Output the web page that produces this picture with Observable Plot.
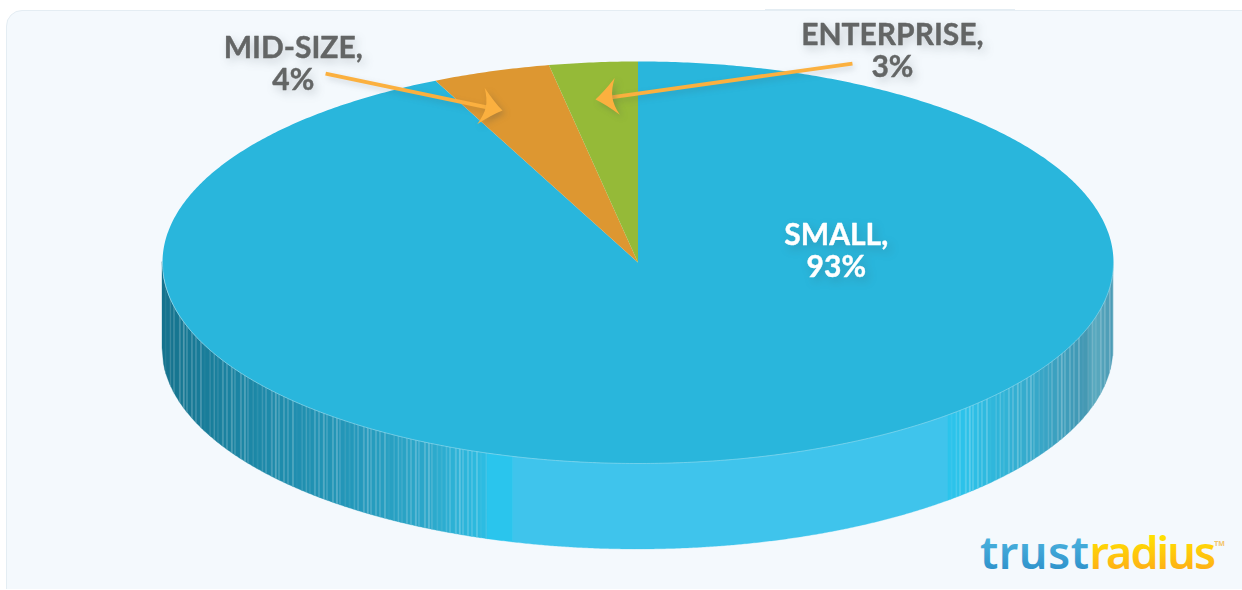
<!DOCTYPE html>
<html>
<head>
<meta charset="utf-8">
<script src="https://cdn.jsdelivr.net/npm/d3@7"></script>
<script src="https://cdn.jsdelivr.net/npm/@observablehq/plot@0.6"></script>
<style>
  html, body { margin: 0; padding: 0; background: #fff; overflow: hidden; }
  #stage { position: relative; width: 1242px; height: 589px; overflow: hidden; }
  #card { position: absolute; left: 6px; top: 10px; width: 1300px; height: 700px;
          background: #f4f9fd; border: 1px solid #e4edf3; border-radius: 16px; }
  #tab { position: absolute; left: 765px; top: 9px; width: 250px; height: 1px; background: #e4edf3; }
  #stage svg { position: absolute; left: 0; top: 0; }
  .logo-trust text { letter-spacing: 0.5px; }
  .logo-radius text { letter-spacing: -2px; }
</style>
</head>
<body>
<div id="stage"><div id="card"></div><div id="tab"></div></div>
<script>
// Company-size shares, listed clockwise from twelve o'clock
const segments = ["Small", "Mid-size", "Enterprise"];
const shares = [93, 4, 3];
const segmentColors = ["#29b6dc", "#dd9731", "#95ba38"];

// Text labels and their anchors, in pie units
const labelTexts = ["SMALL,\n93%", "MID-SIZE,\n4%", "ENTERPRISE,\n3%"];
const labelX = [0.417, -0.725, 0.535];
const labelY = [0.06, 0.99, 1.055];
const labelColors = ["#ffffff", "#636565", "#636565"];

// Callout arrows, tail to tip, in pie units
const arrowTailX = [-0.657, 0.451];
const arrowTailY = [0.94, 0.99];
const arrowTipX = [-0.285, -0.0894];
const arrowTipY = [0.756, 0.811];

// Shading of the visible rim: position across the pie and base colour
const rimStopsAt = [-1, -0.815, -0.605, -0.436, -0.3165, 0.653, 0.689, 0.762, 0.868, 0.941, 0.962, 1];
const rimStopColors = ["#15738d", "#1c87a6", "#2397b9", "#2ca8cb", "#2cbde3", "#2cc4ec", "#2cc2ea", "#30b5d9", "#3aa3c3", "#4397b2", "#5aaabf", "#4a9bb5"];
const rimFlatAt = [[-0.3165, -0.262, "#2ac5ed"], [-0.262, 0.653, "#3fc4ec"]];
const stripWidths = [0.0085, 0.0105, 0.007, 0.0125, 0.0085, 0.0065, 0.011];
const stripGlints = [0.1, 0.2, 0.06, 0.15, 0.24, 0.08, 0.13];

// Projection of the tilted disc
const cx = 637.5, cy = 262, rx = 475.5, ry = 201;
const depth = 86 / ry;
const width = 1242, height = 590;

const rimColor = d3.scaleLinear().domain(rimStopsAt).range(rimStopColors).interpolate(d3.interpolateRgb);

// Outline of one wedge: centre, then the arc sampled every half degree
const total = d3.sum(shares);
let running = 0;
const wedgePoints = segments.flatMap((segment, i) => {
  const a0 = running / total * 2 * Math.PI;
  running += shares[i];
  const a1 = running / total * 2 * Math.PI;
  const n = Math.ceil((a1 - a0) / (Math.PI / 360));
  const arc = d3.range(n + 1).map(k => {
    const a = a0 + (a1 - a0) * k / n;
    return {segment, color: segmentColors[i], x: Math.sin(a), y: Math.cos(a)};
  });
  const hub = {segment, color: segmentColors[i], x: 0, y: 0};
  return [hub, ...arc, hub];
});

// Rim bands: fine irregular strips on the curved ends, flat panels at the front
const rimBands = [];
function addStrips(from, to) {
  const light = 0.0022;
  let u = from, k = 0;
  while (u < to) {
    const period = stripWidths[k % stripWidths.length];
    const base = rimColor(u + period / 2);
    const split = Math.min(u + period - light, to), end = Math.min(u + period, to);
    rimBands.push([u, split, base]);
    rimBands.push([split, end, d3.interpolateRgb(base, "#ffffff")(stripGlints[k % stripGlints.length])]);
    u += period;
    k++;
  }
}
addStrips(-1, rimFlatAt[0][0]);
rimBands.push(...rimFlatAt);
addStrips(rimFlatAt[1][1], 1);

const rimPoints = rimBands.flatMap(([u0, u1, color], band) => {
  const n = Math.max(2, Math.ceil((u1 - u0) / 0.004));
  return d3.range(n + 1).map(k => {
    const u = u0 + (u1 - u0) * k / n;
    const v = -Math.sqrt(Math.max(0, 1 - u * u));
    return {band, color, u, top: v, bottom: v - depth};
  });
});
const frontEdge = d3.range(0, 361).map(k => {
  const a = k / 360 * Math.PI;
  return {u: Math.cos(a), v: -Math.sin(a)};
});

const labels = labelTexts.map((text, i) => ({text, x: labelX[i], y: labelY[i], color: labelColors[i]}));
const arrows = arrowTailX.map((x, i) => {
  const dx = (arrowTipX[i] - x) * rx, dy = -(arrowTipY[i] - arrowTailY[i]) * ry;
  return {
    x1: x, y1: arrowTailY[i],
    x2: x + (arrowTipX[i] - x) * 0.94, y2: arrowTailY[i] + (arrowTipY[i] - arrowTailY[i]) * 0.94,
    tipX: arrowTipX[i], tipY: arrowTipY[i],
    angle: Math.atan2(dx, -dy) * 180 / Math.PI
  };
});

// Curved, swept-back arrowhead drawn with its point at the origin
const sweptHead = {
  draw(context) {
    context.moveTo(0, 0);
    context.quadraticCurveTo(-6, 9, -18.5, 22);
    context.quadraticCurveTo(-8, 17, 0, 17);
    context.quadraticCurveTo(8, 17, 18.5, 22);
    context.quadraticCurveTo(6, 9, 0, 0);
    context.closePath();
  }
};

const softShadow = "drop-shadow(3px 4px 5px rgba(60,70,80,0.24))";

const gradients = () => {
  const defs = d3.create("svg:defs");
  const add = (id, top, bottom) => {
    const g = defs.append("linearGradient").attr("id", id).attr("x1", 0).attr("y1", 0).attr("x2", 0).attr("y2", 1);
    g.append("stop").attr("offset", "25%").attr("stop-color", top);
    g.append("stop").attr("offset", "80%").attr("stop-color", bottom);
  };
  add("logoBlue", "#4cb3de", "#2f93cc");
  add("logoGold", "#ffe100", "#feb016");
  return defs.node();
};

const chart = Plot.plot({
  width, height,
  margin: 0,
  style: {background: "transparent", overflow: "visible"},
  x: {axis: null, domain: [-1, 1], range: [cx - rx, cx + rx]},
  y: {axis: null, domain: [-1, 1], range: [cy + ry, cy - ry]},
  color: {type: "identity"},
  marks: [
    gradients,
    Plot.areaY(rimPoints, {x: "u", y1: "top", y2: "bottom", z: "band", fill: "color", stroke: "color", strokeWidth: 0.3}),
    Plot.line(wedgePoints, {x: "x", y: "y", z: "segment", fill: "color", stroke: "none"}),
    Plot.line(frontEdge, {x: "u", y: "v", stroke: "#a8e2f2", strokeWidth: 0.7, strokeOpacity: 0.75}),
    Plot.link(arrows, {x1: "x1", y1: "y1", x2: "x2", y2: "y2", stroke: "#fbb03f", strokeWidth: 3.8, strokeLinecap: "butt", imageFilter: "drop-shadow(2px 3px 3px rgba(60,70,80,0.2))"}),
    Plot.vector(arrows, {x: "tipX", y: "tipY", rotate: "angle", anchor: "start", shape: sweptHead, fill: "#fbb03f", stroke: "none", imageFilter: "drop-shadow(3px 3px 3px rgba(60,70,80,0.25))"}),
    Plot.text(labels, {x: "x", y: "y", text: "text", fill: "color", stroke: "color", strokeWidth: 0.4, fontFamily: "Lato", fontWeight: 700, fontSize: 30, lineHeight: 1.07, imageFilter: softShadow}),
    Plot.text(["trust"], {x: [0.9495], y: [-1.453], text: d => d, textAnchor: "end", fontFamily: "Noto Sans", fontWeight: 600, fontSize: 45, fill: "url(#logoBlue)", className: "logo-trust"}),
    Plot.text(["radius"], {x: [0.9495], y: [-1.453], text: d => d, textAnchor: "start", fontFamily: "Noto Sans", fontWeight: 600, fontSize: 45, fill: "url(#logoGold)", className: "logo-radius"}),
    Plot.text(["TM"], {x: [1.212], y: [-1.398], text: d => d, textAnchor: "start", fontFamily: "Noto Sans", fontWeight: 700, fontSize: 7, fill: "#f3c468"})
  ]
});
document.getElementById("stage").appendChild(chart);
</script>
</body>
</html>
